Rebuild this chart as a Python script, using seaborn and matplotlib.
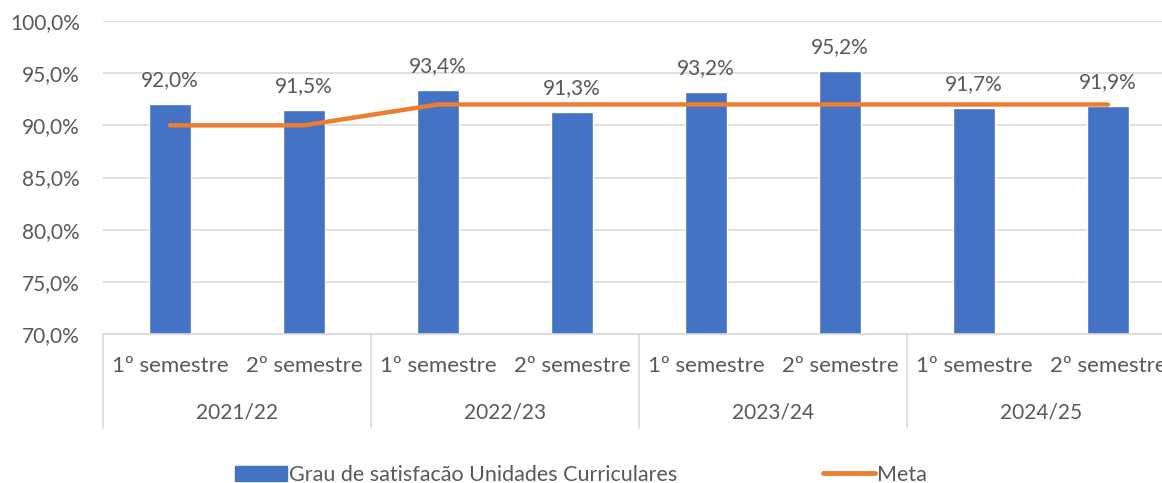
import matplotlib.pyplot as plt
import matplotlib.transforms as mtransforms
import numpy as np
import pandas as pd
import seaborn as sns

years = ["2021/22", "2022/23", "2023/24", "2024/25"]
semesters = ["1º semestre", "2º semestre"]
satisfacao = [92.0, 91.5, 93.4, 91.3, 93.2, 95.2, 91.7, 91.9]
meta = [90.0, 90.0, 92.0, 92.0, 92.0, 92.0, 92.0, 92.0]
yticks = [70, 75, 80, 85, 90, 95, 100]

BLUE = "#4472C4"
ORANGE = "#ED7D31"
TXT = "#595959"
GRID = "#D9D9D9"
NUM_FS = 15
TXT_FS = 16

sns.set_theme(style="white")
plt.rcParams["font.family"] = ["Lato", "DejaVu Sans"]
plt.rcParams["text.color"] = TXT

df = pd.DataFrame({
    "pos": np.arange(len(satisfacao)),
    "sat": satisfacao,
    "meta": meta,
})

fig = plt.figure(figsize=(11.62, 4.83), dpi=100)
W, H = 1162, 483
ax = fig.add_axes([103 / W, 1 - 334 / H, (1175 - 103) / W, (334 - 21) / H])

sns.barplot(data=df, x="pos", y="sat", color=BLUE, width=0.31, saturation=1,
            ax=ax, zorder=2)
sns.lineplot(data=df, x="pos", y="meta", color=ORANGE, lw=3.2, ax=ax, zorder=3,
             solid_capstyle="round")

ax.set_ylim(70, 100)
ax.set_xlim(-0.5, 7.5)
ax.set_yticks(yticks)
ax.set_yticklabels([f"{v:.1f}%".replace(".", ",") for v in yticks])
ax.grid(axis="y", color=GRID, lw=1.2, zorder=0)
ax.set_axisbelow(True)
ax.tick_params(axis="y", length=0, pad=16.5, labelsize=NUM_FS, labelcolor=TXT)
ax.set_xticks([])
ax.set_xlabel("")
ax.set_ylabel("")
for s in ["left", "right", "top"]:
    ax.spines[s].set_visible(False)
ax.spines["bottom"].set_color(GRID)
ax.spines["bottom"].set_linewidth(1.2)

ax.bar_label(ax.containers[0], labels=[f"{v:.1f}%".replace(".", ",") for v in satisfacao],
             padding=10, fontsize=NUM_FS, color=TXT)

# two-level category axis (last label runs off the right edge, as in the source)
trans = mtransforms.blended_transform_factory(ax.transData, ax.transAxes)
for i in range(len(satisfacao)):
    ax.text(i, -0.102, semesters[i % 2], transform=trans, ha="center", va="center",
            fontsize=TXT_FS, color=TXT)
for j, yr in enumerate(years):
    ax.text(2 * j + 0.5, -0.252, yr, transform=trans, ha="center", va="center",
            fontsize=NUM_FS, color=TXT)
for xb in [-0.5, 1.5, 3.5, 5.5, 7.5]:
    ax.plot([xb, xb], [0, -0.30], transform=trans, color=GRID, lw=1.2, clip_on=False)

handles = [
    plt.Rectangle((0, 0), 1, 1, color=BLUE),
    plt.Line2D([0], [0], color=ORANGE, lw=3.5, solid_capstyle="round"),
]
fig.legend(handles, ["Grau de satisfacão Unidades Curriculares", "Meta"],
           loc="center", bbox_to_anchor=(0.5, 1 - 475 / H), ncol=2, frameon=False,
           fontsize=15.5, handlelength=2.4, handletextpad=0.1, columnspacing=6.8,
           labelcolor=TXT)

fig.savefig("out.png", dpi=100)
